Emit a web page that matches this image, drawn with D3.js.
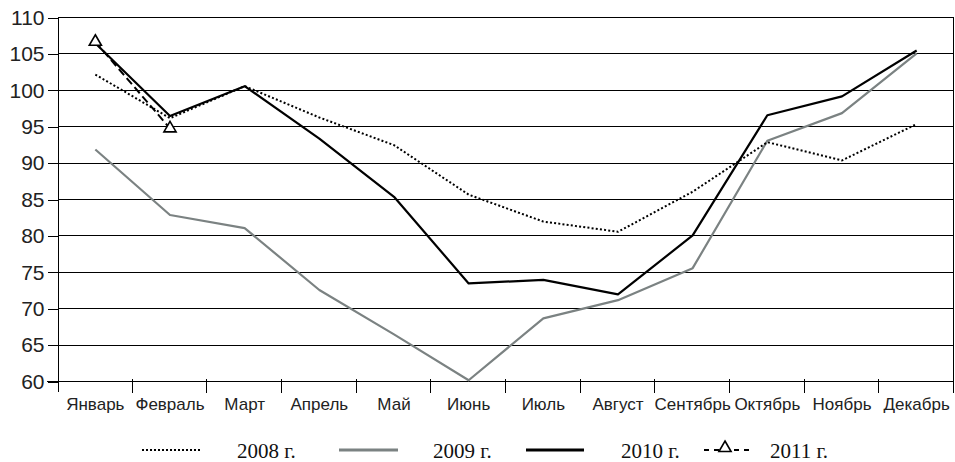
<!doctype html>
<html>
  <head>
    <meta charset="utf-8">
    <script src="https://cdnjs.cloudflare.com/ajax/libs/d3/7.8.5/d3.min.js"></script>
    <style>
      body {
        margin: 0;
        background: #fff;
      }
      svg {
        display: block;
      }
      .grid line {
        stroke: #000;
        stroke-width: 1px;
        shape-rendering: crispEdges;
      }
      .axis text {
        font-family: "Liberation Sans", Arial, sans-serif;
        fill: #222;
      }
      .axis path, .axis line {
        stroke: #000;
        shape-rendering: crispEdges;
      }
      .series {
        fill: none;
        stroke-linejoin: round;
      }
      .legend text {
        font-family: "Liberation Serif", "Times New Roman", serif;
        font-size: 21px;
        fill: #111;
      }
    </style>
  </head>
  <body>
    <svg width="955" height="462"></svg>
    <script>
      // months on the x axis
      var months = ["Январь", "Февраль", "Март", "Апрель", "Май", "Июнь",
                    "Июль", "Август", "Сентябрь", "Октябрь", "Ноябрь", "Декабрь"];

      var yTicks = [60, 65, 70, 75, 80, 85, 90, 95, 100, 105, 110];

      // values
      var s2008 = [102.1, 96.1, 100.5, 96.2, 92.4, 85.6, 81.9, 80.5, 86.0, 92.8, 90.3, 95.3];
      var s2009 = [91.8, 82.8, 81.0, 72.5, 66.4, 60.1, 68.6, 71.1, 75.5, 93.0, 96.8, 105.0];
      var s2010 = [106.4, 96.4, 100.5, 93.3, 85.3, 73.4, 73.9, 71.9, 80.0, 96.5, 99.1, 105.4];
      var s2011 = [106.6, 94.7];

      var seriesNames = ["2008 г.", "2009 г.", "2010 г.", "2011 г."];

      var svg = d3.select("svg");

      // plot box (note: "top" is taken by window.top)
      var pLeft = 58, pRight = 954, pTop = 17, pBottom = 381;

      var x = d3.scaleBand().domain(months).range([pLeft, pRight]);
      var y = d3.scaleLinear().domain([60, 110]).range([pBottom, pTop]);
      var cx = m => x(m) + x.bandwidth() / 2;

      // horizontal grid
      svg.append("g").attr("class", "grid")
        .selectAll("line")
        .data(yTicks)
        .enter().append("line")
          .attr("x1", pLeft).attr("x2", pRight)
          .attr("y1", d => Math.round(y(d)) + 0.5)
          .attr("y2", d => Math.round(y(d)) + 0.5);

      // right border
      svg.append("line")
        .attr("x1", pRight - 0.5).attr("x2", pRight - 0.5)
        .attr("y1", pTop).attr("y2", pBottom + 11)
        .attr("stroke", "#000").attr("shape-rendering", "crispEdges");

      // y axis
      var yAxis = svg.append("g").attr("class", "axis")
        .attr("transform", "translate(" + (pLeft + 0.5) + ",0.5)")
        .call(d3.axisLeft(y).tickValues(yTicks).tickSize(11).tickPadding(3).tickSizeOuter(0));
      yAxis.selectAll("text").style("font-size", "21px");
      yAxis.select(".domain").attr("d", "M0," + (pTop - 0.5) + "V" + (pBottom + 10));

      // x axis: labels centred, ticks on band boundaries
      var xAxis = svg.append("g").attr("class", "axis")
        .attr("transform", "translate(0," + (pBottom + 0.5) + ")")
        .call(d3.axisBottom(x).tickSize(0).tickPadding(16).tickSizeOuter(0));
      xAxis.selectAll("text").style("font-size", "17px");
      xAxis.selectAll(".tick line").remove();
      xAxis.select(".domain").attr("d", "M" + (pLeft - 11) + ",0H" + pRight);

      xAxis.selectAll("line.bound")
        .data(months.slice(1).concat(["end"]))
        .enter().append("line")
          .attr("class", "bound")
          .attr("x1", (d, i) => Math.round(x(months[0]) + x.step() * (i + 1)) - 0.5)
          .attr("x2", (d, i) => Math.round(x(months[0]) + x.step() * (i + 1)) - 0.5)
          .attr("y1", -3).attr("y2", 11);

      var line = d3.line()
        .x((d, i) => cx(months[i]))
        .y(d => y(d));

      svg.append("path").attr("class", "series")
        .attr("d", line(s2009))
        .attr("stroke", "#7b8282").attr("stroke-width", 2.2);

      svg.append("path").attr("class", "series")
        .attr("d", line(s2008))
        .attr("stroke", "#000").attr("stroke-width", 2)
        .attr("stroke-dasharray", "2,2.2");

      svg.append("path").attr("class", "series")
        .attr("d", line(s2010))
        .attr("stroke", "#000").attr("stroke-width", 2.2);

      svg.append("path").attr("class", "series")
        .attr("d", line(s2011))
        .attr("stroke", "#000").attr("stroke-width", 2)
        .attr("stroke-dasharray", "8,4");

      var tri = d3.symbol().type(d3.symbolTriangle).size(64);
      svg.selectAll("path.marker")
        .data(s2011)
        .enter().append("path")
          .attr("class", "marker")
          .attr("d", tri)
          .attr("transform", (d, i) => "translate(" + cx(months[i]) + "," + y(d) + ")")
          .attr("fill", "#fff").attr("stroke", "#000").attr("stroke-width", 1.6);

      // legend
      var legendItems = [
        {x0: 142, x1: 201, tx: 237, stroke: "#000", w: 2, dash: "2,2"},
        {x0: 339, x1: 398, tx: 433, stroke: "#7b8282", w: 3, dash: null},
        {x0: 526, x1: 584, tx: 621, stroke: "#000", w: 3, dash: null},
        {x0: 704, x1: 754, tx: 770, stroke: "#000", w: 2, dash: "5,5", marker: true}
      ];
      var legendY = 450;
      var lg = svg.append("g").attr("class", "legend");
      legendItems.forEach((it, i) => {
        lg.append("line")
          .attr("x1", it.x0).attr("x2", it.x1)
          .attr("y1", legendY).attr("y2", legendY)
          .attr("stroke", it.stroke).attr("stroke-width", it.w)
          .attr("stroke-dasharray", it.dash);
        if (it.marker) {
          lg.append("path")
            .attr("d", tri)
            .attr("transform", "translate(" + ((it.x0 + it.x1) / 2 - 4) + "," + (legendY - 2) + ")")
            .attr("fill", "#fff").attr("stroke", "#000").attr("stroke-width", 1.6);
        }
        lg.append("text")
          .attr("x", it.tx).attr("y", 458)
          .text(seriesNames[i]);
      });
    </script>
  </body>
</html>
